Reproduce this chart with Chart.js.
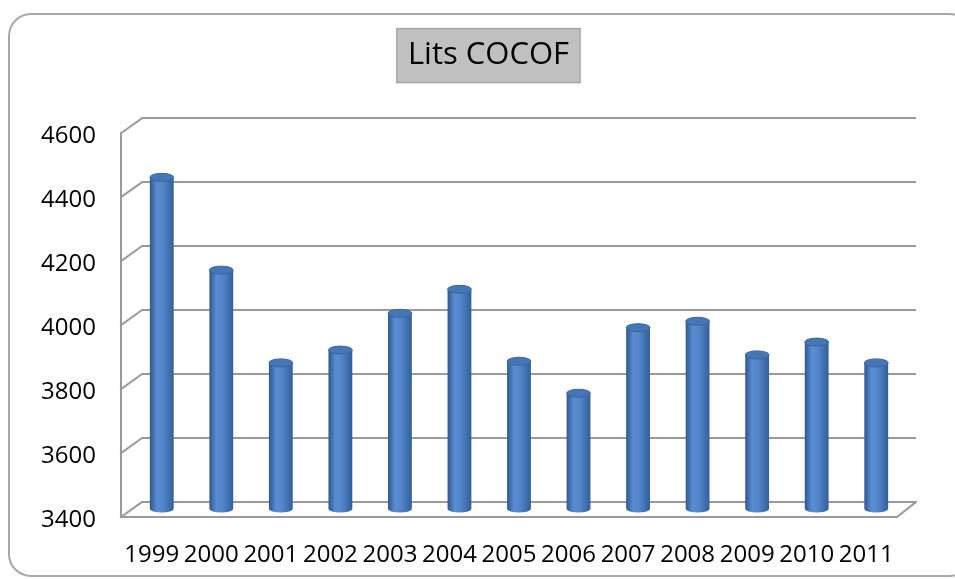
<!DOCTYPE html>
<html>
<head>
<meta charset="utf-8">
<script src="https://cdn.jsdelivr.net/npm/chart.js@4"></script>
<style>
  html, body { margin: 0; padding: 0; background: #fff; overflow: hidden; }
  #wrap { width: 955px; height: 579px; }
</style>
</head>
<body>
<div id="wrap"><canvas id="litsChart" width="955" height="579"></canvas></div>
<script>
// --- donnees ---
const titleText = 'Lits COCOF';
const years = ['1999', '2000', '2001', '2002', '2003', '2004', '2005', '2006', '2007', '2008', '2009', '2010', '2011'];
const beds = [4440, 4150, 3860, 3900, 4015, 4090, 3865, 3765, 3970, 3990, 3885, 3925, 3860];
const yTickValues = [3400, 3600, 3800, 4000, 4200, 4400, 4600];

const FONT = 'Open Sans';
const gridColor = '#9a9a9a';
const depthX = 21, depthY = 15;     // decalage face avant / mur du fond
const barShiftX = -10, barShiftY = 8; // cylindres a mi-profondeur
const barPct = 0.4;

function cylinderFill(ctx, cx, hw) {
  if (!Number.isFinite(cx) || !Number.isFinite(hw) || hw <= 0) return '#4f81bd';
  const g = ctx.createLinearGradient(cx - hw, 0, cx + hw, 0);
  g.addColorStop(0, '#2d5890');
  g.addColorStop(0.3, '#5a8dd2');
  g.addColorStop(0.55, '#5286cb');
  g.addColorStop(1, '#335f99');
  return g;
}

function halfWidth(chart) {
  const xs = chart.scales.x;
  return xs.width / years.length * barPct / 2;
}

function drawFrontFrame(chart) {
  const ctx = chart.ctx;
  const ys = chart.scales.y;
  const { left, right } = chart.chartArea;
  const yBase = ys.getPixelForValue(yTickValues[0]);
  const yTop = ys.getPixelForValue(yTickValues[yTickValues.length - 1]);
  ctx.save();
  ctx.strokeStyle = gridColor;
  ctx.lineWidth = 2;
  ctx.lineCap = 'square';
  // petites obliques a gauche (mur du fond -> face avant)
  yTickValues.forEach(v => {
    const y = ys.getPixelForValue(v);
    ctx.beginPath();
    ctx.moveTo(left - depthX, y + depthY);
    ctx.lineTo(left, y);
    ctx.stroke();
  });
  // arete verticale avant
  ctx.beginPath();
  ctx.moveTo(left - depthX, yTop + depthY);
  ctx.lineTo(left - depthX, yBase + depthY);
  ctx.stroke();
  // bord avant du plancher
  ctx.beginPath();
  ctx.moveTo(left - depthX, yBase + depthY);
  ctx.lineTo(right - depthX + 2, yBase + depthY);
  ctx.lineTo(right, yBase);
  ctx.stroke();
  ctx.restore();
}

const frame3d = {
  id: 'frame3d',
  afterLayout(chart) {
    // le titre est centre un peu a droite du milieu, comme dans l'original
    chart.titleBlock.left = 61;
  },
  beforeDraw(chart) {
    const ctx = chart.ctx;
    ctx.save();
    ctx.fillStyle = '#fff';
    ctx.fillRect(0, 0, chart.width, chart.height);
    // cadre arrondi
    ctx.strokeStyle = '#a8a8a8';
    ctx.lineWidth = 2;
    ctx.beginPath();
    ctx.roundRect(9, 14, 962, 562, 22);
    ctx.stroke();
    // boite du titre
    const t = chart.titleBlock;
    const topts = chart.options.plugins.title;
    ctx.font = `${topts.font.size}px "${FONT}"`;
    const w = ctx.measureText(titleText).width + 22;
    const cx = (t.left + t.right) / 2;
    const cy = t.top + topts.padding.top + topts.font.size * 1.2 / 2;
    ctx.fillStyle = '#c0c0c0';
    ctx.fillRect(cx - w / 2, cy - 27, w, 54);
    ctx.strokeStyle = '#a6a6a6';
    ctx.lineWidth = 1.5;
    ctx.strokeRect(cx - w / 2, cy - 27, w, 54);
    ctx.restore();
  },
  beforeDatasetsDraw(chart) {
    chart.ctx.save();
    chart.ctx.translate(barShiftX, barShiftY);
  },
  afterDatasetsDraw(chart) {
    const ctx = chart.ctx;
    const meta = chart.getDatasetMeta(0);
    const hw = halfWidth(chart);
    meta.data.forEach(el => {
      // fond arrondi
      ctx.beginPath();
      ctx.ellipse(el.x, el.base, hw, 3.5, 0, 0, Math.PI);
      ctx.fillStyle = cylinderFill(ctx, el.x, hw);
      ctx.fill();
      // dessus
      ctx.beginPath();
      ctx.ellipse(el.x, el.y, hw, 4, 0, 0, Math.PI * 2);
      ctx.fillStyle = '#4676b6';
      ctx.fill();
      ctx.strokeStyle = '#3a659f';
      ctx.lineWidth = 1;
      ctx.stroke();
    });
    ctx.restore();
  },
  afterDraw(chart) {
    drawFrontFrame(chart);
  }
};

const chart = new Chart(document.getElementById('litsChart').getContext('2d'), {
  type: 'bar',
  data: {
    labels: years,
    datasets: [{
      data: beds,
      base: yTickValues[0],
      backgroundColor: (c) => {
        const xs = c.chart.scales.x;
        if (!xs || c.dataIndex === undefined) return '#4f81bd';
        return cylinderFill(c.chart.ctx, xs.getPixelForValue(c.dataIndex), halfWidth(c.chart));
      },
      borderWidth: 0,
      categoryPercentage: 1,
      barPercentage: barPct,
      clip: false,
    }],
  },
  options: {
    responsive: false,
    animation: false,
    layout: { padding: { top: 0, right: 39, bottom: 0, left: 0 } },
    plugins: {
      legend: { display: false },
      tooltip: { enabled: false },
      title: {
        display: true,
        text: titleText,
        color: '#000',
        font: { family: FONT, size: 31, weight: 'normal' },
        padding: { top: 37, bottom: 44 },
      },
    },
    scales: {
      x: {
        grid: { display: false },
        border: { display: false },
        ticks: {
          color: '#000',
          font: { family: FONT, size: 24 },
          labelOffset: -20,
          padding: 31,
          maxRotation: 0,
          autoSkip: false,
        },
        afterFit: (s) => { s.height = 77; },
      },
      y: {
        min: 3400,
        max: 4600,
        afterBuildTicks: (s) => { s.ticks = yTickValues.map(v => ({ value: v })); },
        grid: { color: gridColor, lineWidth: 2, drawTicks: false },
        border: { display: false },
        ticks: {
          color: '#000',
          font: { family: FONT, size: 24 },
          labelOffset: 18,
          padding: 46,
          callback: (v) => String(v),
        },
        afterFit: (s) => { s.width = 142; },
      },
    },
  },
  plugins: [frame3d],
});
</script>
</body>
</html>
